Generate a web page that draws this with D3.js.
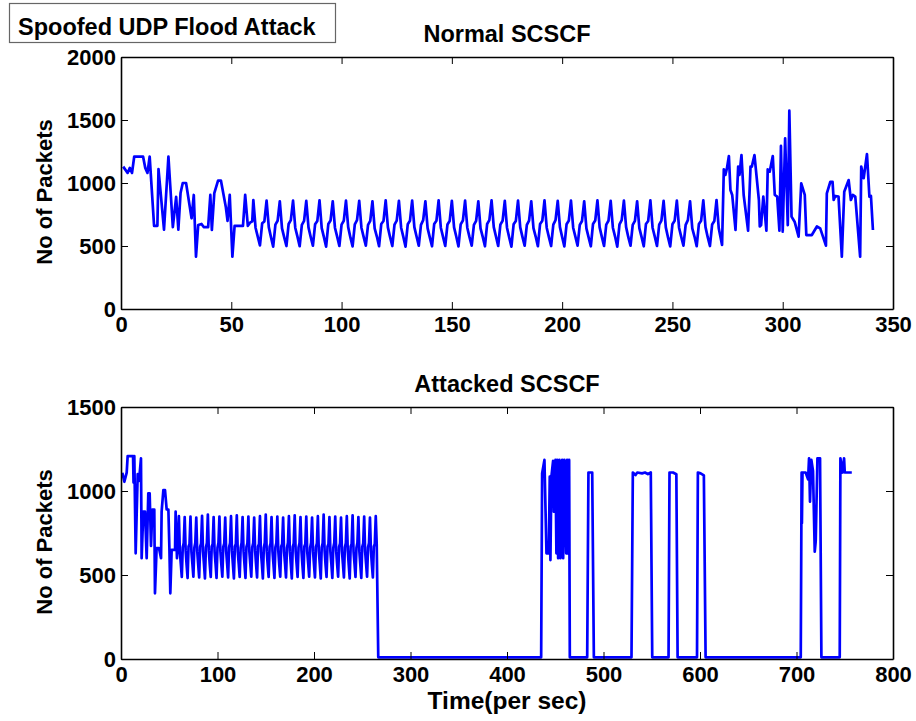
<!DOCTYPE html>
<html>
<head>
<meta charset="utf-8">
<script src="https://cdn.jsdelivr.net/npm/d3@7"></script>
<style>
  html, body { margin: 0; padding: 0; background: #fff; }
  svg { display: block; }
  text { font-family: "Liberation Sans", Arial, sans-serif; font-weight: bold; fill: #000; }
</style>
</head>
<body>
<svg id="chart" width="916" height="721"></svg>
<script>
// ---------------- DATA ----------------
const figureTitle = "Spoofed UDP Flood Attack";
const topTitle = "Normal SCSCF";
const bottomTitle = "Attacked SCSCF";
const yLabel = "No of Packets";
const xLabel = "Time(per sec)";

const topXTicks = [0, 50, 100, 150, 200, 250, 300, 350];
const topYTicks = [0, 500, 1000, 1500, 2000];
const bottomXTicks = [0, 100, 200, 300, 400, 500, 600, 700, 800];
const bottomYTicks = [0, 500, 1000, 1500];

// Normal SCSCF : irregular start
const normalStartTime = [1, 3, 4, 5, 6, 10, 11, 12, 13, 15, 16.5, 17, 19.5, 21.5, 23.5, 25, 26, 27, 28, 29.5, 32, 33, 34, 35, 36.5, 37.5, 39.5, 40.5, 41.2, 42.3, 44, 45.3, 47.5, 48.3, 49.3, 50.5, 51.5, 55.3, 56.3, 57.5, 58.5, 59.5];
const normalStartPackets = [1130, 1080, 1120, 1080, 1210, 1210, 1120, 1080, 1210, 660, 660, 1110, 630, 1210, 650, 890, 630, 920, 1000, 1000, 720, 905, 415, 667, 675, 650, 650, 905, 627, 920, 1019, 1019, 812, 700, 905, 415, 660, 660, 905, 660, 685, 695];
// Normal SCSCF : regular cycle, one value per second from t = 60
const normalCycleStart = 60;
const normalCyclePackets = [
  865, 645, 575, 505, 680, 695,
  860, 650, 570, 495, 670, 700,
  855, 640, 568, 500, 675, 705,
  860, 645, 575, 498, 668, 700,
  858, 648, 572, 502, 672, 698,
  862, 642, 570, 495, 675, 702,
  855, 645, 575, 500, 670, 700,
  860, 650, 568, 497, 672, 705,
  858, 645, 572, 503, 668, 700,
  855, 640, 575, 498, 675, 698,
  862, 648, 570, 500, 670, 702,
  858, 645, 572, 495, 672, 700,
  860, 650, 575, 502, 668, 705,
  855, 642, 568, 498, 675, 700,
  862, 645, 572, 500, 670, 698,
  858, 648, 575, 497, 672, 702,
  860, 645, 570, 503, 668, 700,
  855, 640, 572, 498, 675, 705,
  862, 650, 575, 500, 670, 700,
  858, 645, 568, 495, 672, 698,
  860, 648, 572, 502, 668, 702,
  855, 642, 575, 498, 675, 700,
  862, 645, 570, 500, 670, 705,
  858, 650, 572, 497, 672, 700,
  860, 645, 575, 503, 668, 698,
  855, 640, 568, 498, 675, 702,
  862, 648, 572, 500, 670, 700,
  858, 645, 575, 495, 672, 705,
  860, 650, 570, 502, 668, 700,
  855, 642, 572, 498, 675, 698,
  862, 645, 575, 500, 670, 702,
  858, 648, 568, 497, 672, 700,
  860, 645, 572, 503, 668, 705,
  855, 640, 575, 498, 675, 700,
  862, 650, 570, 500, 670, 698,
  865, 640
];
// Normal SCSCF : irregular end
const normalEndTime = [272.5, 273.3, 274, 274.7, 275.6, 276.3, 277.1, 278.6, 279.8, 280.4, 281.3, 282.3, 284.3, 285.4, 286, 287.2, 289.2, 289.6, 290.2, 291.2, 292.6, 293.2, 294.1, 295.5, 296.4, 297.5, 298.5, 299.2, 300, 301.1, 302.3, 303, 304, 305.4, 307.2, 308.4, 310, 310.7, 313.2, 315.5, 317, 319.6, 320, 321.6, 322.6, 323.1, 323.8, 325.3, 326.8, 327.9, 329.9, 330.9, 331.8, 332.9, 335.1, 335.6, 336.7, 338.2, 339.3, 340, 340.9];
const normalEndPackets = [508, 1108, 1064, 1116, 1214, 944, 905, 627, 1130, 1064, 1222, 905, 622, 1130, 1130, 1222, 865, 655, 666, 892, 622, 1108, 1090, 1214, 905, 892, 622, 1294, 614, 1354, 666, 1574, 733, 693, 574, 997, 905, 587, 587, 655, 640, 503, 918, 1010, 1010, 865, 897, 892, 415, 931, 1023, 865, 905, 892, 415, 1130, 1038, 1230, 892, 897, 627];

// Attacked SCSCF : irregular start
const attackStartTime = [1.4, 3.5, 5.9, 6.9, 12.5, 13, 13.8, 15.2, 17.3, 18.7, 20.7, 21.4, 23.1, 24.9, 26.6, 28.3, 29.7, 31.1, 32.5, 34.5, 35.2, 36.9, 39.4, 41.5, 42.1, 43.9, 45.6, 47.3, 49.1, 50.1, 51.1, 52.5, 56, 56.6, 58, 59];
const attackStartPackets = [1109, 1055, 1109, 1208, 1208, 1050, 1208, 629, 1100, 1060, 1195, 600, 877, 877, 600, 986, 986, 673, 890, 890, 391, 660, 660, 600, 877, 1006, 1006, 890, 890, 673, 391, 650, 650, 877, 600, 680];
// Attacked SCSCF : regular cycle, one value per second from t = 60
const attackCycleStart = 60;
const attackCyclePackets = [
  850, 640, 565, 488, 665, 690,
  845, 645, 560, 482, 670, 685,
  848, 638, 566, 490, 662, 692,
  842, 642, 562, 485, 668, 688,
  852, 640, 565, 480, 665, 690,
  860, 645, 560, 488, 670, 685,
  845, 638, 566, 483, 662, 692,
  848, 642, 562, 490, 668, 688,
  842, 640, 565, 485, 665, 690,
  850, 645, 560, 480, 670, 685,
  855, 638, 566, 488, 662, 692,
  845, 642, 562, 483, 668, 688,
  848, 640, 565, 490, 665, 690,
  842, 645, 560, 485, 670, 685,
  850, 638, 566, 480, 662, 692,
  860, 642, 562, 488, 668, 688,
  845, 640, 565, 483, 665, 690,
  848, 645, 560, 490, 670, 685,
  842, 638, 566, 485, 662, 692,
  850, 642, 562, 480, 668, 688,
  855, 640, 565, 488, 665, 690,
  845, 645, 560, 483, 670, 685,
  848, 638, 566, 490, 662, 692,
  842, 642, 562, 485, 668, 688,
  850, 640, 565, 480, 665, 690,
  860, 645, 560, 488, 670, 685,
  845, 638, 566, 483, 662, 692,
  848, 642, 562, 490, 668, 688,
  842, 640, 565, 485, 665, 690,
  850, 645, 560, 480, 670, 685,
  855, 638, 566, 488, 662, 692,
  845, 642, 562, 483, 668, 688,
  848, 640, 565, 490, 665, 690,
  842, 645, 560, 485, 670, 685,
  850, 680
];
// Attacked SCSCF : flood period
const attackEndTime = [266.6, 435.4, 436.4, 438.8, 440.9, 443.3, 444.3, 445, 446, 447.8, 448.5, 450.2, 451.2, 452, 453, 454.4, 455.4, 457.2, 458.2, 459.5, 461.3, 462.3, 463.4, 464.4, 465.1, 483.1, 484.4, 488.3, 490, 529, 530.4, 533.2, 535, 540, 543, 546, 549, 550.5, 567.4, 568.4, 572, 575.5, 576.8, 596.9, 597.8, 600.6, 604, 605.8, 704.4, 705.3, 705.6, 706.2, 709.5, 712, 713, 714, 715.4, 717.1, 718.9, 719.9, 721.7, 724.4, 725.8, 744.8, 745.5, 747.6, 749.3, 750, 757.3];
const attackEndPackets = [10, 10, 1105, 1185, 629, 629, 1085, 589, 1085, 1180, 877, 1185, 629, 1185, 600, 1185, 600, 1185, 600, 1185, 629, 1185, 629, 1185, 10, 10, 1110, 1110, 10, 10, 1110, 1095, 1110, 1105, 1110, 1100, 1110, 10, 10, 1110, 1110, 1100, 10, 10, 1110, 1105, 1093, 10, 10, 1110, 808, 1110, 1110, 1070, 1195, 936, 1185, 1120, 639, 700, 1195, 1195, 10, 10, 1195, 1110, 1195, 1110, 1110];

// ---------------- BUILD SERIES ----------------
function buildSeries(t0, v0, cycStart, cyc, t1, v1) {
  const pts = t0.map((t, i) => [t, v0[i]]);
  cyc.forEach((v, i) => pts.push([cycStart + i, v]));
  t1.forEach((t, i) => pts.push([t, v1[i]]));
  return pts;
}
const normalSeries = buildSeries(normalStartTime, normalStartPackets, normalCycleStart, normalCyclePackets, normalEndTime, normalEndPackets);
const attackSeries = buildSeries(attackStartTime, attackStartPackets, attackCycleStart, attackCyclePackets, attackEndTime, attackEndPackets);

// ---------------- DRAW ----------------
const svg = d3.select("#chart");
const left = 121, right = 893;

function panel(cfg) {
  const x = d3.scaleLinear().domain(cfg.xDomain).range([left, right]);
  const y = d3.scaleLinear().domain(cfg.yDomain).range([cfg.bottom, cfg.top]);
  const g = svg.append("g");

  g.append("path")
    .datum(cfg.data)
    .attr("fill", "none")
    .attr("stroke", "#0000ff")
    .attr("stroke-width", 2.7)
    .attr("stroke-linejoin", "round")
    .attr("d", d3.line().x(d => x(d[0])).y(d => y(d[1])));

  const tickLen = 7;
  const axFont = "22px";
  const xb = g.append("g").attr("transform", `translate(0,${cfg.bottom})`)
    .call(d3.axisBottom(x).tickValues(cfg.xTicks).tickSizeInner(-tickLen).tickSizeOuter(0).tickPadding(7).tickFormat(d3.format("d")));
  const xt = g.append("g").attr("transform", `translate(0,${cfg.top})`)
    .call(d3.axisTop(x).tickValues(cfg.xTicks).tickSizeInner(-tickLen).tickSizeOuter(0).tickFormat(""));
  const yl = g.append("g").attr("transform", `translate(${left},0)`)
    .call(d3.axisLeft(y).tickValues(cfg.yTicks).tickSizeInner(-tickLen).tickSizeOuter(0).tickPadding(5).tickFormat(d3.format("d")));
  const yr = g.append("g").attr("transform", `translate(${right},0)`)
    .call(d3.axisRight(y).tickValues(cfg.yTicks).tickSizeInner(-tickLen).tickSizeOuter(0).tickFormat(""));

  [xb, xt, yl, yr].forEach(a => {
    a.select(".domain").attr("stroke", "#000").attr("stroke-width", 1.6);
    a.selectAll(".tick line").attr("stroke", "#000").attr("stroke-width", 1);
    a.selectAll(".tick text")
      .attr("font-family", '"Liberation Sans", Arial, sans-serif')
      .attr("font-weight", "bold")
      .attr("font-size", axFont)
      .attr("fill", "#000");
  });
  yl.selectAll(".tick text").attr("dy", "0.36em");
  xb.selectAll(".tick text").attr("dy", "0.72em");

  g.append("text")
    .attr("x", (left + right) / 2)
    .attr("y", cfg.top - 15)
    .attr("text-anchor", "middle")
    .attr("font-size", "23.5px")
    .text(cfg.title);

  g.append("text")
    .attr("transform", `translate(52,${(cfg.top + cfg.bottom) / 2 + 9}) rotate(-90)`)
    .attr("text-anchor", "middle")
    .attr("font-size", "22px")
    .text(yLabel);
}

panel({
  data: normalSeries, xDomain: [0, 350], yDomain: [0, 2000],
  xTicks: topXTicks, yTicks: topYTicks, top: 57, bottom: 309, title: topTitle
});
panel({
  data: attackSeries, xDomain: [0, 800], yDomain: [0, 1500],
  xTicks: bottomXTicks, yTicks: bottomYTicks, top: 407, bottom: 659, title: bottomTitle
});

svg.append("text")
  .attr("x", (left + right) / 2)
  .attr("y", 709)
  .attr("text-anchor", "middle")
  .attr("font-size", "24.5px")
  .text(xLabel);

svg.append("rect")
  .attr("x", 9.5).attr("y", 3.5).attr("width", 326).attr("height", 39)
  .attr("fill", "#fff").attr("stroke", "#666").attr("stroke-width", 1.2);
svg.append("text")
  .attr("x", 18).attr("y", 35)
  .attr("font-size", "23.5px")
  .text(figureTitle);
</script>
</body>
</html>
